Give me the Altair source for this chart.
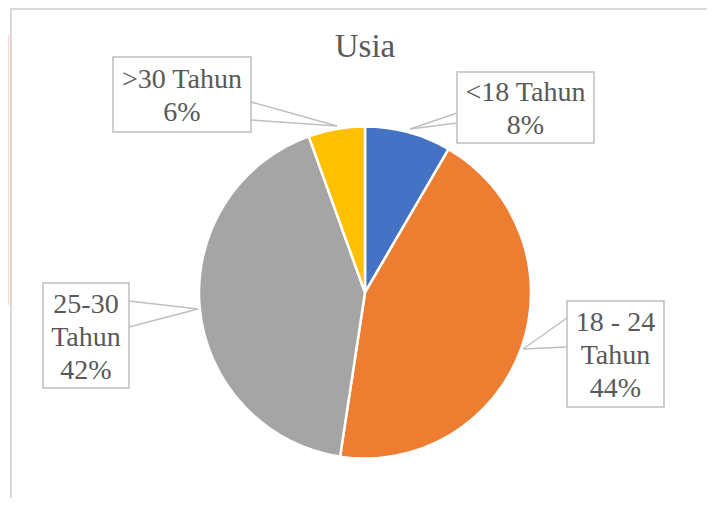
import altair as alt
import pandas as pd

# ---- data ----
categories = ["<18 Tahun", "18 - 24 Tahun", "25-30 Tahun", ">30 Tahun"]
label_names = [["<18 Tahun"], ["18 - 24", "Tahun"], ["25-30", "Tahun"], [">30 Tahun"]]
values = [8.4, 44.0, 42.1, 5.5]          # percent shares (slice angles)
colors = ["#4472C4", "#ED7D31", "#A5A5A5", "#FFC000"]
title_text = "Usia"

# ---- layout of the callout boxes (plot-pixel coordinates) ----
box_x0 = [449, 559, 35, 105]
box_x1 = [586, 656, 121, 243]
box_y0 = [64, 293, 275, 49]
box_y1 = [135, 399, 380, 124]
tail_edge = [449, 559, 121, 243]
tail_ya = [105, 310, 293, 94]
tail_yb = [115, 339, 319, 112]
tail_tipx = [402, 515, 190, 329]
tail_tipy = [121, 341, 301, 118]

W, H = 699, 490
CX, CY, R = 357, 284.5, 166
FONT = "Liberation Serif"
TXT = "#595959"
LH = 33

pie_df = pd.DataFrame({
    "cat": categories,
    "value": values,
    "order": list(range(len(categories))),
})

lab_df = pd.DataFrame({
    "cat": categories,
    "x0": box_x0, "x1": box_x1, "y0": box_y0, "y1": box_y1,
    "edge": tail_edge, "ya": tail_ya, "yb": tail_yb,
    "tx": tail_tipx, "ty": tail_tipy,
})

rows = []
for i, (names, v) in enumerate(zip(label_names, values)):
    lines = names + [f"{round(v):d}%"]
    cx = (box_x0[i] + box_x1[i]) / 2
    cy = (box_y0[i] + box_y1[i]) / 2 + 2
    n = len(lines)
    for k, t in enumerate(lines):
        rows.append({"cat": categories[i], "line": t, "cx": cx,
                     "cy": cy + (k - (n - 1) / 2) * LH})
line_df = pd.DataFrame(rows)

xs = alt.Scale(domain=[0, W], range=[0, W])
ys = alt.Scale(domain=[0, H], range=[0, H])

def X(f):
    return alt.X(f"{f}:Q", scale=xs, axis=None)

def Y(f):
    return alt.Y(f"{f}:Q", scale=ys, axis=None)

pie = alt.Chart(pie_df).mark_arc(
    outerRadius=R, stroke="white", strokeWidth=2.5
).encode(
    theta=alt.Theta("value:Q", stack=True),
    order=alt.Order("order:Q"),
    color=alt.Color("cat:N", scale=alt.Scale(domain=categories, range=colors), legend=None),
    x=alt.value(CX), y=alt.value(CY),
)

boxes = alt.Chart(lab_df).mark_rect(
    fill="white", stroke="#BFBFBF", strokeWidth=1.5
).encode(x=X("x0"), x2="x1", y=Y("y0"), y2="y1")

gap = alt.Chart(lab_df).mark_rule(color="white", strokeWidth=3).encode(
    x=X("edge"), x2="edge", y=Y("ya"), y2="yb"
)

tail_a = alt.Chart(lab_df).mark_rule(color="#BFBFBF", strokeWidth=1.5).encode(
    x=X("edge"), x2="tx", y=Y("ya"), y2="ty"
)
tail_b = alt.Chart(lab_df).mark_rule(color="#BFBFBF", strokeWidth=1.5).encode(
    x=X("edge"), x2="tx", y=Y("yb"), y2="ty"
)

texts = alt.Chart(line_df).mark_text(
    font=FONT, fontSize=28, color=TXT, align="center", baseline="middle"
).encode(x=X("cx"), y=Y("cy"), text="line:N")

title = alt.Chart(pd.DataFrame({"t": [title_text]})).mark_text(
    font=FONT, fontSize=33, color=TXT, align="center", baseline="middle"
).encode(x=alt.value(CX), y=alt.value(39), text="t:N")

border_top = alt.Chart(pd.DataFrame({"a": [0]})).mark_rule(color="#D9D9D9", strokeWidth=2).encode(
    x=alt.value(2), x2=alt.value(W), y=alt.value(1)
)
border_left = alt.Chart(pd.DataFrame({"a": [0]})).mark_rule(color="#D9D9D9", strokeWidth=2).encode(
    x=alt.value(3), y=alt.value(0), y2=alt.value(H)
)
pink = alt.Chart(pd.DataFrame({"a": [0]})).mark_rect(color="#FFD9DC").encode(
    x=alt.value(0), x2=alt.value(1.5), y=alt.value(27), y2=alt.value(297)
)

chart = alt.layer(
    pink, border_top, border_left, pie, gap, tail_a, tail_b, boxes, texts, title
).properties(
    width=W, height=H, padding=0, autosize=alt.AutoSizeParams(type="none")
).configure_view(stroke=None).configure_text(font=FONT)

chart.save("out.html", embed_options={"renderer": "svg", "actions": False})
